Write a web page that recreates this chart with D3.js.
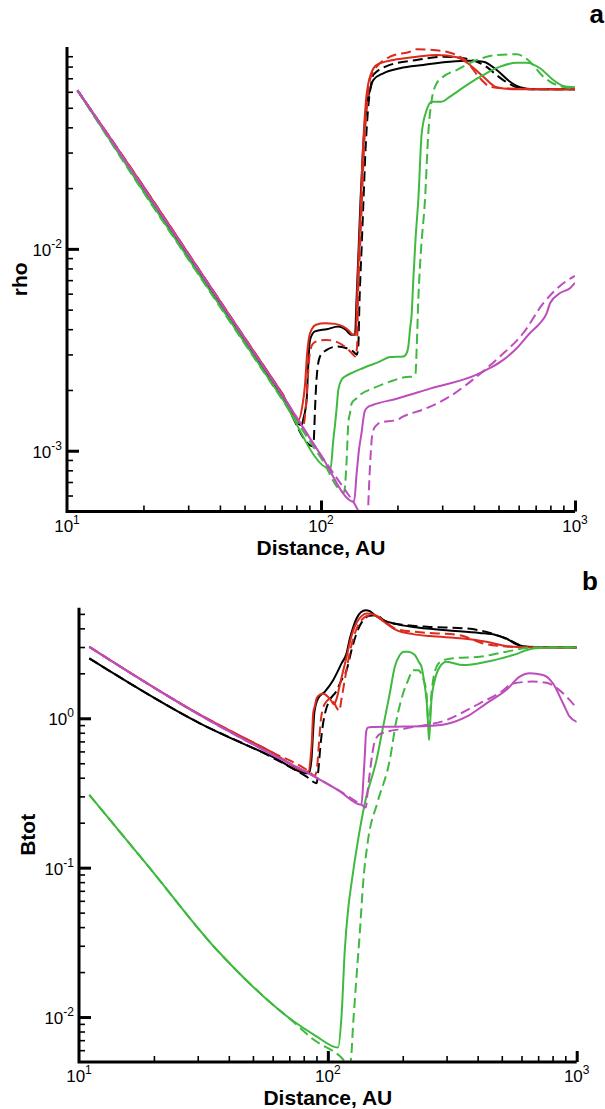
<!DOCTYPE html>
<html>
<head>
<meta charset="utf-8">
<script src="https://cdn.jsdelivr.net/npm/d3@7"></script>
<style>
  html, body { margin: 0; padding: 0; background: #fff; }
  svg { display: block; font-family: "Liberation Sans", Arial, Helvetica, sans-serif; }
</style>
</head>
<body>
<svg id="chart" width="605" height="1109"></svg>
<script>
// ---- Density profiles: [distance (AU), rho] ----
const rhoBlackSolid = [[11,0.061],[20,0.0198],[30,9.25e-3],[50,3.54e-3],[70,1.88e-3],[83.9,1.34e-3],[85.0,1.42e-3],[87.8,1.79e-3],[88.9,2.52e-3],[90.5,3.54e-3],[94.7,3.90e-3],[105.3,4.00e-3],[117.0,4.12e-3],[124.3,4.00e-3],[132.1,3.75e-3],[136.1,3.75e-3],[138.0,5.59e-3],[140.6,9.89e-3],[143.1,0.0175],[146.3,0.0309],[150.4,0.0488],[155.9,0.0612],[160.6,0.0686],[175.9,0.0741],[204.6,0.0785],[252.8,0.0815],[322,0.0846],[386.1,0.0855],[435.5,0.0846],[491.8,0.0769],[554.8,0.0673],[607.5,0.0632],[685.2,0.0617],[1000,0.0617]];
const rhoBlackDash = [[11,0.061],[20,0.0198],[30,9.25e-3],[50,3.54e-3],[70,1.88e-3],[93.3,1.05e-3],[93.8,1.16e-3],[94.7,1.60e-3],[96.2,2.33e-3],[99.1,2.93e-3],[105.3,3.16e-3],[115.3,3.28e-3],[126.2,3.22e-3],[134.0,3.10e-3],[138.2,2.99e-3],[140.2,3.28e-3],[141.8,5.59e-3],[144.4,9.89e-3],[147.0,0.0175],[149.7,0.0309],[153.1,0.0488],[157.3,0.0648],[160.6,0.0727],[186.9,0.0815],[238.2,0.0862],[303,0.0895],[363.3,0.0879],[435.5,0.0815],[522.1,0.0686],[589.5,0.0632],[685.2,0.0617],[1000,0.0617]];
const rhoRedSolid = [[11,0.061],[20,0.0204],[30,9.5e-3],[50,3.64e-3],[70,1.94e-3],[81.9,1.43e-3],[84.2,1.63e-3],[86.5,2.12e-3],[88.1,2.99e-3],[89.7,3.63e-3],[92.2,4.02e-3],[95.6,4.21e-3],[103.7,4.28e-3],[113.5,4.25e-3],[122.0,4.13e-3],[128.9,3.93e-3],[133.7,3.75e-3],[137.4,3.75e-3],[138.6,5.59e-3],[141.1,9.89e-3],[143.7,0.0175],[145.0,0.0246],[147.6,0.0388],[150.4,0.0546],[153.1,0.0648],[158.3,0.0752],[165.7,0.0815],[192.6,0.0862],[238.2,0.0895],[285.4,0.0913],[342.1,0.0889],[386.1,0.0815],[435.5,0.0713],[491.8,0.0632],[589.5,0.0617],[1000,0.0617]];
const rhoRedDash = [[11,0.061],[20,0.0204],[30,9.5e-3],[50,3.64e-3],[70,1.94e-3],[85.3,1.35e-3],[87.3,1.69e-3],[88.9,2.38e-3],[90.5,3.09e-3],[93.0,3.39e-3],[97.3,3.50e-3],[104.6,3.54e-3],[115.3,3.46e-3],[126.2,3.22e-3],[134.0,2.99e-3],[136.1,2.93e-3],[138.6,3.24e-3],[139.8,5.59e-3],[142.4,9.89e-3],[145.0,0.0175],[147.6,0.0309],[151.3,0.0488],[154.5,0.0648],[160.2,0.0752],[165.7,0.0799],[186.9,0.0895],[224,0.0948],[238.2,0.0975],[268.6,0.097],[322,0.0937],[374.7,0.0846],[422.7,0.0700],[462.9,0.0636],[522.1,0.0624],[1000,0.0617]];
const rhoGreenSolid = [[11,0.061],[20,0.0193],[30,9.0e-3],[50,3.44e-3],[70,1.83e-3],[109.0,8.14e-4],[111.8,1.13e-3],[113.5,1.34e-3],[115.1,1.60e-3],[117.0,2.00e-3],[120.6,2.25e-3],[124.3,2.33e-3],[132.4,2.43e-3],[146.7,2.57e-3],[170.8,2.77e-3],[186.9,2.91e-3],[210.9,2.93e-3],[217.5,3.05e-3],[220.7,3.28e-3],[224,3.97e-3],[227.6,4.80e-3],[230.9,7.02e-3],[235.5,0.0111],[241.6,0.0175],[249.2,0.0374],[260.7,0.0488],[272.8,0.0536],[298.6,0.0536],[322,0.0568],[374.7,0.0648],[435.5,0.0727],[506.7,0.0799],[589.5,0.0836],[645.5,0.0836],[728.2,0.0785],[821.6,0.0686],[899.4,0.0641],[1000,0.0632]];
const rhoGreenDash = [[11,0.061],[20,0.0191],[30,8.9e-3],[50,3.40e-3],[70,1.81e-3],[100,9.2e-4],[123.2,6.23e-4],[126.2,9.03e-4],[128.1,1.37e-3],[130.1,1.54e-3],[132.1,1.72e-3],[138.2,1.82e-3],[142.4,1.89e-3],[160.6,2.04e-3],[186.9,2.20e-3],[217.5,2.32e-3],[230.9,2.33e-3],[235.5,2.41e-3],[238.2,3.28e-3],[241.6,5.59e-3],[247.6,9.89e-3],[256.7,0.0175],[264.5,0.0374],[272.8,0.0546],[285.4,0.0661],[303,0.0713],[342.1,0.0769],[410.2,0.0862],[491.8,0.0913],[589.5,0.0920],[665,0.0846],[750.3,0.0713],[847.2,0.0648],[1000,0.0624]];
const rhoMagentaSolid = [[11,0.061],[20,0.0201],[30,9.4e-3],[50,3.60e-3],[70,1.91e-3],[100,9.5e-4],[134.9,5.59e-4],[138.2,7.76e-4],[141.1,1.01e-3],[144.6,1.24e-3],[147.0,1.46e-3],[149.0,1.58e-3],[153.5,1.65e-3],[158.8,1.68e-3],[198.6,1.81e-3],[268.6,2.03e-3],[410.2,2.38e-3],[462.9,2.57e-3],[522.1,2.82e-3],[589.5,3.22e-3],[665,3.83e-3],[728.2,4.29e-3],[773.8,4.80e-3],[797.4,5.38e-3],[873.1,6.04e-3],[955.7,6.39e-3],[1000,6.79e-3]];
const rhoMagentaDash = [[11,0.061],[20,0.0201],[30,9.4e-3],[50,3.60e-3],[70,1.91e-3],[100,9.5e-4],[135,5.5e-4],[152.4,4.36e-4],[153.8,5.72e-4],[155.9,8.36e-4],[158.3,1.13e-3],[160.9,1.27e-3],[165.7,1.34e-3],[170.8,1.38e-3],[198.6,1.42e-3],[210.9,1.48e-3],[252.8,1.60e-3],[322,1.86e-3],[410.2,2.33e-3],[506.7,2.93e-3],[626,3.83e-3],[750.3,5.38e-3],[899.4,6.76e-3],[1000,7.35e-3]];

// ---- Total magnetic field profiles: [distance (AU), Btot] ----
const btotBlackSolid = [[11,2.52],[30.6,0.926],[60,0.552],[83.9,0.428],[85.9,0.527],[87.1,0.773],[88.3,1.10],[91.4,1.36],[97.3,1.51],[105,1.80],[113.5,2.33],[118.9,2.72],[122.6,3.42],[126,4.01],[130.4,4.66],[135.7,5.13],[142.1,5.29],[147.5,5.21],[154.5,4.90],[166.8,4.54],[188.7,4.27],[220.1,4.09],[299.8,3.89],[407.8,3.73],[475.9,3.60],[522,3.42],[572.6,3.13],[628.1,3.01],[1000,2.98]];
const btotBlackDash = [[11,2.52],[30.6,0.926],[60,0.545],[82.1,0.407],[90.1,0.368],[91.6,0.452],[93.3,0.646],[95.5,0.902],[97.7,1.10],[101.9,1.33],[107.7,1.50],[113.5,1.80],[118.9,2.10],[124.5,2.86],[130.4,3.70],[138.6,4.54],[147.5,4.86],[155.9,4.90],[172.1,4.42],[207.1,4.20],[256.8,4.09],[360.6,3.99],[433.9,3.79],[538.2,3.33],[608.6,3.04],[678.2,2.995],[1000,2.98]];
const btotRedSolid = [[11,3.01],[30.6,1.06],[60,0.59],[83.4,0.44],[85.1,0.527],[86.3,0.716],[87.3,1.08],[88.7,1.21],[90.1,1.36],[92.9,1.44],[95.7,1.46],[100.3,1.39],[103.5,1.30],[105.7,1.24],[108.7,1.37],[111.7,1.67],[114.9,2.04],[118.9,2.57],[122.6,3.23],[126.6,3.89],[130.8,4.40],[136.5,4.83],[143,5.03],[148.8,5.01],[156.9,4.83],[166.8,4.47],[188.7,3.89],[220.1,3.66],[256.8,3.55],[349.4,3.42],[433.9,3.25],[522,3.04],[590.4,2.995],[1000,2.98]];
const btotRedDash = [[11,3.01],[30.6,1.06],[60,0.59],[83.4,0.445],[88.7,0.412],[90.7,0.488],[92,0.663],[93.7,0.974],[95.7,1.17],[98.8,1.30],[101.9,1.35],[105.7,1.28],[108.7,1.17],[111.2,1.12],[113.3,1.33],[116,1.67],[119.2,2.17],[122.6,2.77],[126.6,3.44],[130.8,4.01],[136.5,4.54],[145.1,4.86],[154.5,4.90],[166.8,4.54],[188.7,3.95],[234.2,3.77],[338.9,3.60],[420.5,3.17],[505.8,3.04],[590.4,2.995],[1000,2.98]];
const btotGreenSolid = [[11,0.307],[19,0.102],[35.7,0.0283],[55,0.0138],[72.6,9.4e-3],[88.7,7.55e-3],[110,6.25e-3],[113.5,0.0102],[117,0.0283],[120.6,0.0524],[124.5,0.079],[132.3,0.154],[140.8,0.27],[156.9,0.527],[166.8,0.879],[177.4,1.47],[185.8,2.21],[194.6,2.65],[201.9,2.79],[210.2,2.79],[223.6,2.65],[232.1,2.38],[237.9,2.21],[244.2,1.72],[249.1,1.33],[252.9,0.902],[255.1,0.716],[258,0.974],[260.9,1.33],[269,1.80],[281.8,2.21],[299.8,2.39],[349.4,2.27],[433.9,2.39],[554.9,2.65],[667.6,2.93],[779.2,2.98],[1000,2.98]];
const btotGreenDash = [[11,0.307],[19,0.102],[35.7,0.0283],[55,0.0138],[72.6,9.3e-3],[87.3,7.1e-3],[111.7,5.49e-3],[122.6,4.76e-3],[124.5,5.78e-3],[126,8.27e-3],[128.4,0.0131],[131.4,0.0222],[134.4,0.0366],[138.6,0.079],[145.1,0.154],[158.1,0.272],[177.4,0.527],[188.7,0.974],[200.7,1.47],[210.2,1.80],[220.1,2.10],[230.6,2.10],[241.4,1.85],[249.1,1.47],[254.4,0.879],[260.9,1.47],[273.3,2.21],[290.5,2.45],[318.6,2.52],[407.8,2.58],[522,2.79],[667.6,2.98],[1000,2.98]];
const btotMagentaSolid = [[11,3.01],[30.6,1.05],[60,0.57],[83.4,0.43],[110,0.33],[136.5,0.2635],[138.9,0.387],[140.8,0.569],[142.5,0.810],[144.7,0.866],[150.2,0.875],[188.7,0.879],[249.1,0.888],[299.8,0.916],[360.6,1.025],[433.9,1.26],[522,1.55],[590.4,1.90],[647.5,2.00],[732.2,1.95],[803.2,1.71],[881,1.26],[937.4,1.025],[1000,0.945]];
const btotMagentaDash = [[11,3.01],[30.6,1.05],[60,0.57],[83.4,0.43],[110,0.33],[136.5,0.2635],[142.1,0.253],[144.7,0.332],[148.8,0.488],[153,0.663],[157.4,0.750],[164.3,0.794],[207.1,0.857],[299.8,0.974],[407.8,1.26],[490.7,1.48],[554.9,1.71],[667.6,1.76],[755.5,1.73],[881,1.47],[1000,1.17]];

// ---- Axis tick labels (powers of ten) ----
const xTickExps = [1, 2, 3];
const rhoTickExps = [-3, -2];
const btotTickExps = [-2, -1, 0];

const BLACK = "#000000", RED = "#dc2a1d", GREEN = "#3fb93f", MAGENTA = "#bd4dbd";

const svg = d3.select("#chart");
const defs = svg.append("defs");

function powerLabel(g, x, y, exp, anchor) {
  const t = g.append("text")
    .attr("x", x).attr("y", y)
    .attr("text-anchor", anchor)
    .attr("font-size", 17)
    .attr("fill", "#000");
  t.append("tspan").text("10");
  t.append("tspan").attr("dy", -8).attr("font-size", 12).text(String(exp));
}

function drawPanel(cfg) {
  const g = svg.append("g");
  const x = d3.scaleLog().domain([10, 1000]).range([cfg.left, cfg.right]);
  const y = d3.scaleLog().domain(cfg.yDomain).range([cfg.bottom, cfg.top]);

  defs.append("clipPath").attr("id", "clip-" + cfg.id)
    .append("rect")
    .attr("x", cfg.left).attr("y", cfg.top)
    .attr("width", cfg.right - cfg.left).attr("height", cfg.bottom - cfg.top);

  const line = d3.line()
    .x(d => x(d[0]))
    .y(d => y(d[1]))
    .curve(d3.curveMonotoneX);

  const curves = g.append("g").attr("clip-path", `url(#clip-${cfg.id})`);
  cfg.series.forEach(s => {
    curves.append("path")
      .attr("d", line(s.data))
      .attr("fill", "none")
      .attr("stroke", s.color)
      .attr("stroke-width", 2)
      .attr("stroke-linejoin", "round")
      .attr("stroke-dasharray", s.dashed ? "10,5" : null);
  });

  // tick positions
  const xMajor = xTickExps.map(e => Math.pow(10, e));
  const xMinor = x.ticks().filter(v => !xMajor.some(m => Math.abs(m - v) / m < 1e-6));
  const yMajor = cfg.yExps.map(e => Math.pow(10, e));
  const [y0, y1] = cfg.yDomain;
  const yMinor = y.ticks().filter(v =>
    !yMajor.some(m => Math.abs(m - v) / m < 1e-6) &&
    v > y0 * 1.0001 && v < y1 * 0.9999);

  // bottom axis: minor and major ticks pointing inward
  const bottom = g.append("g").attr("transform", `translate(0,${cfg.bottom})`);
  bottom.append("g")
    .call(d3.axisBottom(x).tickValues(xMinor).tickSize(-6).tickSizeOuter(0).tickFormat(""))
    .call(a => a.select(".domain").remove())
    .call(a => a.selectAll(".tick line").attr("stroke-width", 1.6));
  bottom.append("g")
    .call(d3.axisBottom(x).tickValues(xMajor.filter(v => v > 10)).tickSize(-11).tickSizeOuter(0).tickFormat(""))
    .call(a => a.select(".domain").remove())
    .call(a => a.selectAll(".tick line").attr("stroke-width", 3));

  // left axis
  const left = g.append("g").attr("transform", `translate(${cfg.left},0)`);
  left.append("g")
    .call(d3.axisLeft(y).tickValues(yMinor).tickSize(-6).tickSizeOuter(0).tickFormat(""))
    .call(a => a.select(".domain").remove())
    .call(a => a.selectAll(".tick line").attr("stroke-width", 1.6));
  left.append("g")
    .call(d3.axisLeft(y).tickValues(yMajor).tickSize(-12).tickSizeOuter(0).tickFormat(""))
    .call(a => a.select(".domain").remove())
    .call(a => a.selectAll(".tick line").attr("stroke-width", 3));

  // axis lines
  g.append("path")
    .attr("d", `M${cfg.left},${cfg.top}V${cfg.bottom}H${cfg.right}`)
    .attr("fill", "none").attr("stroke", "#000").attr("stroke-width", 3)
    .attr("stroke-linecap", "butt").attr("stroke-linejoin", "miter");

  // tick labels
  xTickExps.forEach(e => powerLabel(g, x(Math.pow(10, e)), cfg.bottom + 20, e, "middle"));
  cfg.yExps.forEach(e => powerLabel(g, cfg.left - 5, y(Math.pow(10, e)) + 7, e, "end"));

  // axis titles
  g.append("text")
    .attr("x", (cfg.left + cfg.right) / 2).attr("y", cfg.bottom + 43)
    .attr("text-anchor", "middle").attr("font-size", 21).attr("font-weight", "bold")
    .text("Distance, AU");
  g.append("text")
    .attr("transform", `translate(${cfg.yTitleX},${(cfg.top + cfg.bottom) / 2}) rotate(-90)`)
    .attr("text-anchor", "middle").attr("font-size", 21).attr("font-weight", "bold")
    .text(cfg.yTitle);

  // panel letter
  g.append("text")
    .attr("x", cfg.letterX).attr("y", cfg.letterY)
    .attr("text-anchor", "end").attr("font-size", 26).attr("font-weight", "bold")
    .text(cfg.letter);
}

drawPanel({
  id: "rho", left: 67, right: 575, top: 47, bottom: 511.5,
  yDomain: [5e-4, 0.1], yExps: rhoTickExps,
  yTitle: "rho", yTitleX: 27, letter: "a", letterX: 604, letterY: 23,
  series: [
    { data: rhoBlackSolid, color: BLACK },
    { data: rhoBlackDash, color: BLACK, dashed: true },
    { data: rhoRedSolid, color: RED },
    { data: rhoRedDash, color: RED, dashed: true },
    { data: rhoGreenSolid, color: GREEN },
    { data: rhoGreenDash, color: GREEN, dashed: true },
    { data: rhoMagentaSolid, color: MAGENTA },
    { data: rhoMagentaDash, color: MAGENTA, dashed: true }
  ]
});

drawPanel({
  id: "btot", left: 79, right: 576.7, top: 607.7, bottom: 1062,
  yDomain: [5e-3, 5.5], yExps: btotTickExps,
  yTitle: "Btot", yTitleX: 35, letter: "b", letterX: 598, letterY: 590,
  series: [
    { data: btotBlackSolid, color: BLACK },
    { data: btotBlackDash, color: BLACK, dashed: true },
    { data: btotRedSolid, color: RED },
    { data: btotRedDash, color: RED, dashed: true },
    { data: btotGreenSolid, color: GREEN },
    { data: btotGreenDash, color: GREEN, dashed: true },
    { data: btotMagentaSolid, color: MAGENTA },
    { data: btotMagentaDash, color: MAGENTA, dashed: true }
  ]
});
</script>
</body>
</html>
